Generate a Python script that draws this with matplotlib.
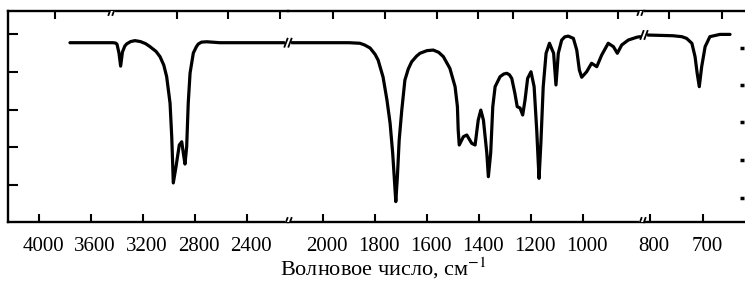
import numpy as np
import matplotlib.pyplot as plt
from matplotlib.transforms import ScaledTranslation

plt.rcParams['font.family'] = ['Liberation Serif', 'DejaVu Serif']
plt.rcParams['mathtext.fontset'] = 'stix'

# spectrum: wavenumber (cm-1) and transmittance (%)
wn_hi = [3762, 3431, 3410, 3400, 3385, 3372, 3358, 3340, 3325, 3295, 3262,
         3220, 3180, 3146, 3100, 3069, 3040, 3018, 2992, 2979, 2972, 2967,
         2946, 2921, 2902, 2890, 2877, 2864, 2852, 2838, 2813, 2790, 2775,
         2750, 2710, 2608, 2086]
t_hi = [95.4, 95.4, 95.2, 94.6, 90.0, 83.0, 90.5, 93.6, 94.8, 96.0, 96.5,
        96.0, 94.9, 93.3, 90.8, 88.0, 83.5, 77.4, 63.4, 45.6, 31.7, 21.1,
        29.7, 41.2, 42.9, 37.0, 31.1, 40.3, 63.4, 79.3, 89.9, 93.2, 94.7,
        95.7, 95.9, 95.4, 95.4]

wn_mid = [2134, 1900, 1858, 1840, 1819, 1800, 1788, 1769, 1754, 1742, 1732,
          1726, 1720, 1714, 1707, 1697, 1685, 1672, 1659, 1640, 1627, 1600,
          1576, 1555, 1537, 1512, 1492, 1483, 1480, 1476, 1460, 1447, 1428,
          1415, 1403, 1393, 1383, 1370, 1364, 1355, 1347, 1338, 1319, 1305,
          1293, 1283, 1274, 1262, 1253, 1242, 1232, 1223, 1213, 1200, 1188,
          1178, 1172, 1169, 1162, 1153, 1142, 1129, 1113, 1104, 1095, 1082,
          1070, 1057, 1037, 1024, 1014, 1005, 986, 967, 947, 928, 903, 883,
          868, 851, 826, 793, 781]
t_mid = [95.4, 95.4, 95.1, 94.2, 92.6, 89.3, 86.2, 77.2, 65.0, 52.8, 36.9,
         24.2, 11.2, 24.2, 43.8, 59.7, 75.6, 81.5, 85.3, 88.3, 89.8, 91.2,
         91.5, 90.3, 88.0, 81.8, 72.1, 61.5, 49.1, 41.2, 45.6, 46.5, 42.1,
         41.2, 54.4, 59.7, 54.4, 37.0, 24.4, 37.0, 61.5, 72.1, 77.4, 78.8,
         79.2, 78.4, 76.5, 68.6, 61.5, 60.8, 57.1, 65.0, 76.5, 80.0, 72.1,
         49.1, 31.7, 23.5, 42.3, 72.1, 89.8, 95.1, 89.8, 73.0, 89.8, 96.8,
         98.5, 98.9, 97.7, 91.5, 80.9, 77.1, 80.0, 84.5, 82.7, 88.9, 95.1,
         93.3, 89.8, 94.2, 96.8, 98.3, 98.6]

wn_low = [809, 757, 740, 731, 721, 715, 711, 707, 702.5, 696, 687, 668, 649]
t_low = [99.5, 99.1, 98.6, 97.7, 95.1, 88.0, 79.2, 72.1, 82.7, 93.3, 98.6, 99.8, 99.8]

ticks_hi = [4000, 3600, 3200, 2800, 2400]
ticks_mid = [2000, 1800, 1600, 1400, 1200, 1000]
ticks_low = [800, 700]
left_ticks = [20, 40, 60, 80, 100]

# frame layout in pixels
W, H = 745, 282
fl, fr, ft, fb = 8, 744, 11, 222
cuts = [8, 288, 644, 744]
# (wavenumber, pixel, px per cm-1) for each section of the chart
anchor = [(4000, 39, 0.13), (2000, 323, 0.26), (800, 650, 0.53)]
top_px = [55, 177, 228, 280, 333, 385, 437, 478, 513, 567, 618, 669, 722]
right_px = [48, 85, 122, 160, 198]


def wn_at(px, i):
    w0, p0, k = anchor[i]
    return w0 - (px - p0) / k


fig = plt.figure(figsize=(W / 100, H / 100), dpi=100)
ylim = (0.4, 112.2)
segs = [(wn_hi, t_hi, ticks_hi), (wn_mid, t_mid, ticks_mid), (wn_low, t_low, ticks_low)]
axes = []
shift = ScaledTranslation(4 / 100, 0, fig.dpi_scale_trans)
for i, (wn, t, tk) in enumerate(segs):
    ax = fig.add_axes([cuts[i] / W, 1 - fb / H, (cuts[i + 1] - cuts[i]) / W, (fb - ft) / H])
    ax.patch.set_alpha(0)
    ax.plot(wn, t, color='black', lw=2.3, solid_joinstyle='round', solid_capstyle='round')
    ax.set_xlim(wn_at(cuts[i], i), wn_at(cuts[i + 1], i))
    ax.set_ylim(*ylim)
    for s in ['left', 'right']:
        ax.spines[s].set_visible(False)
    for s in ['top', 'bottom']:
        ax.spines[s].set_linewidth(1.7)
    ax.set_xticks(tk)
    ax.set_xticklabels([str(v) for v in tk])
    ax.tick_params(axis='x', direction='in', length=6, width=1.5, labelsize=15, pad=11)
    for lab in ax.get_xticklabels():
        lab.set_transform(lab.get_transform() + shift)
    if i == 0:
        ax.spines['left'].set_visible(True)
        ax.spines['left'].set_linewidth(1.7)
        ax.set_yticks(left_ticks)
        ax.tick_params(axis='y', direction='in', length=7, width=1.5, labelleft=False)
    else:
        ax.set_yticks([])
    axes.append(ax)

# overlay in pixel units for top / right ticks and the break marks
ov = fig.add_axes([fl / W, 1 - fb / H, (fr - fl) / W, (fb - ft) / H])
ov.patch.set_alpha(0)
for s in ov.spines.values():
    s.set_visible(False)
ov.set_xlim(fl, fr)
ov.set_ylim(fb, ft)
ov.xaxis.tick_top()
ov.set_xticks(top_px)
ov.yaxis.tick_right()
ov.set_yticks(right_px)
ov.tick_params(axis='x', direction='in', length=6, width=1.5, labeltop=False)
ov.tick_params(axis='y', direction='in', length=3, width=2.5, labelright=False)


def brk(x, y):
    ov.plot([x - 1, x + 1], [y - 4, y + 4], color='white', lw=4, zorder=3)
    for dx in (-2, 2):
        ov.plot([x + dx - 1.5, x + dx + 1.5], [y + 4, y - 4], color='black', lw=1.3, zorder=4)


for x in (288, 642):
    brk(x, fb)
brk(112, ft)
brk(641, ft)
# breaks on the curve itself, where the sections join
for i, (wn, t, tk) in enumerate(segs[1:], start=1):
    p = ov.transData.inverted().transform(axes[i].transData.transform((wn[0], t[0])))
    brk(cuts[i], p[1])

fig.text(383 / W, 1 - 276 / H, 'Волновое число, см$^{-1}$', ha='center', va='baseline',
         fontsize=16)

fig.savefig('out.png', dpi=100)
